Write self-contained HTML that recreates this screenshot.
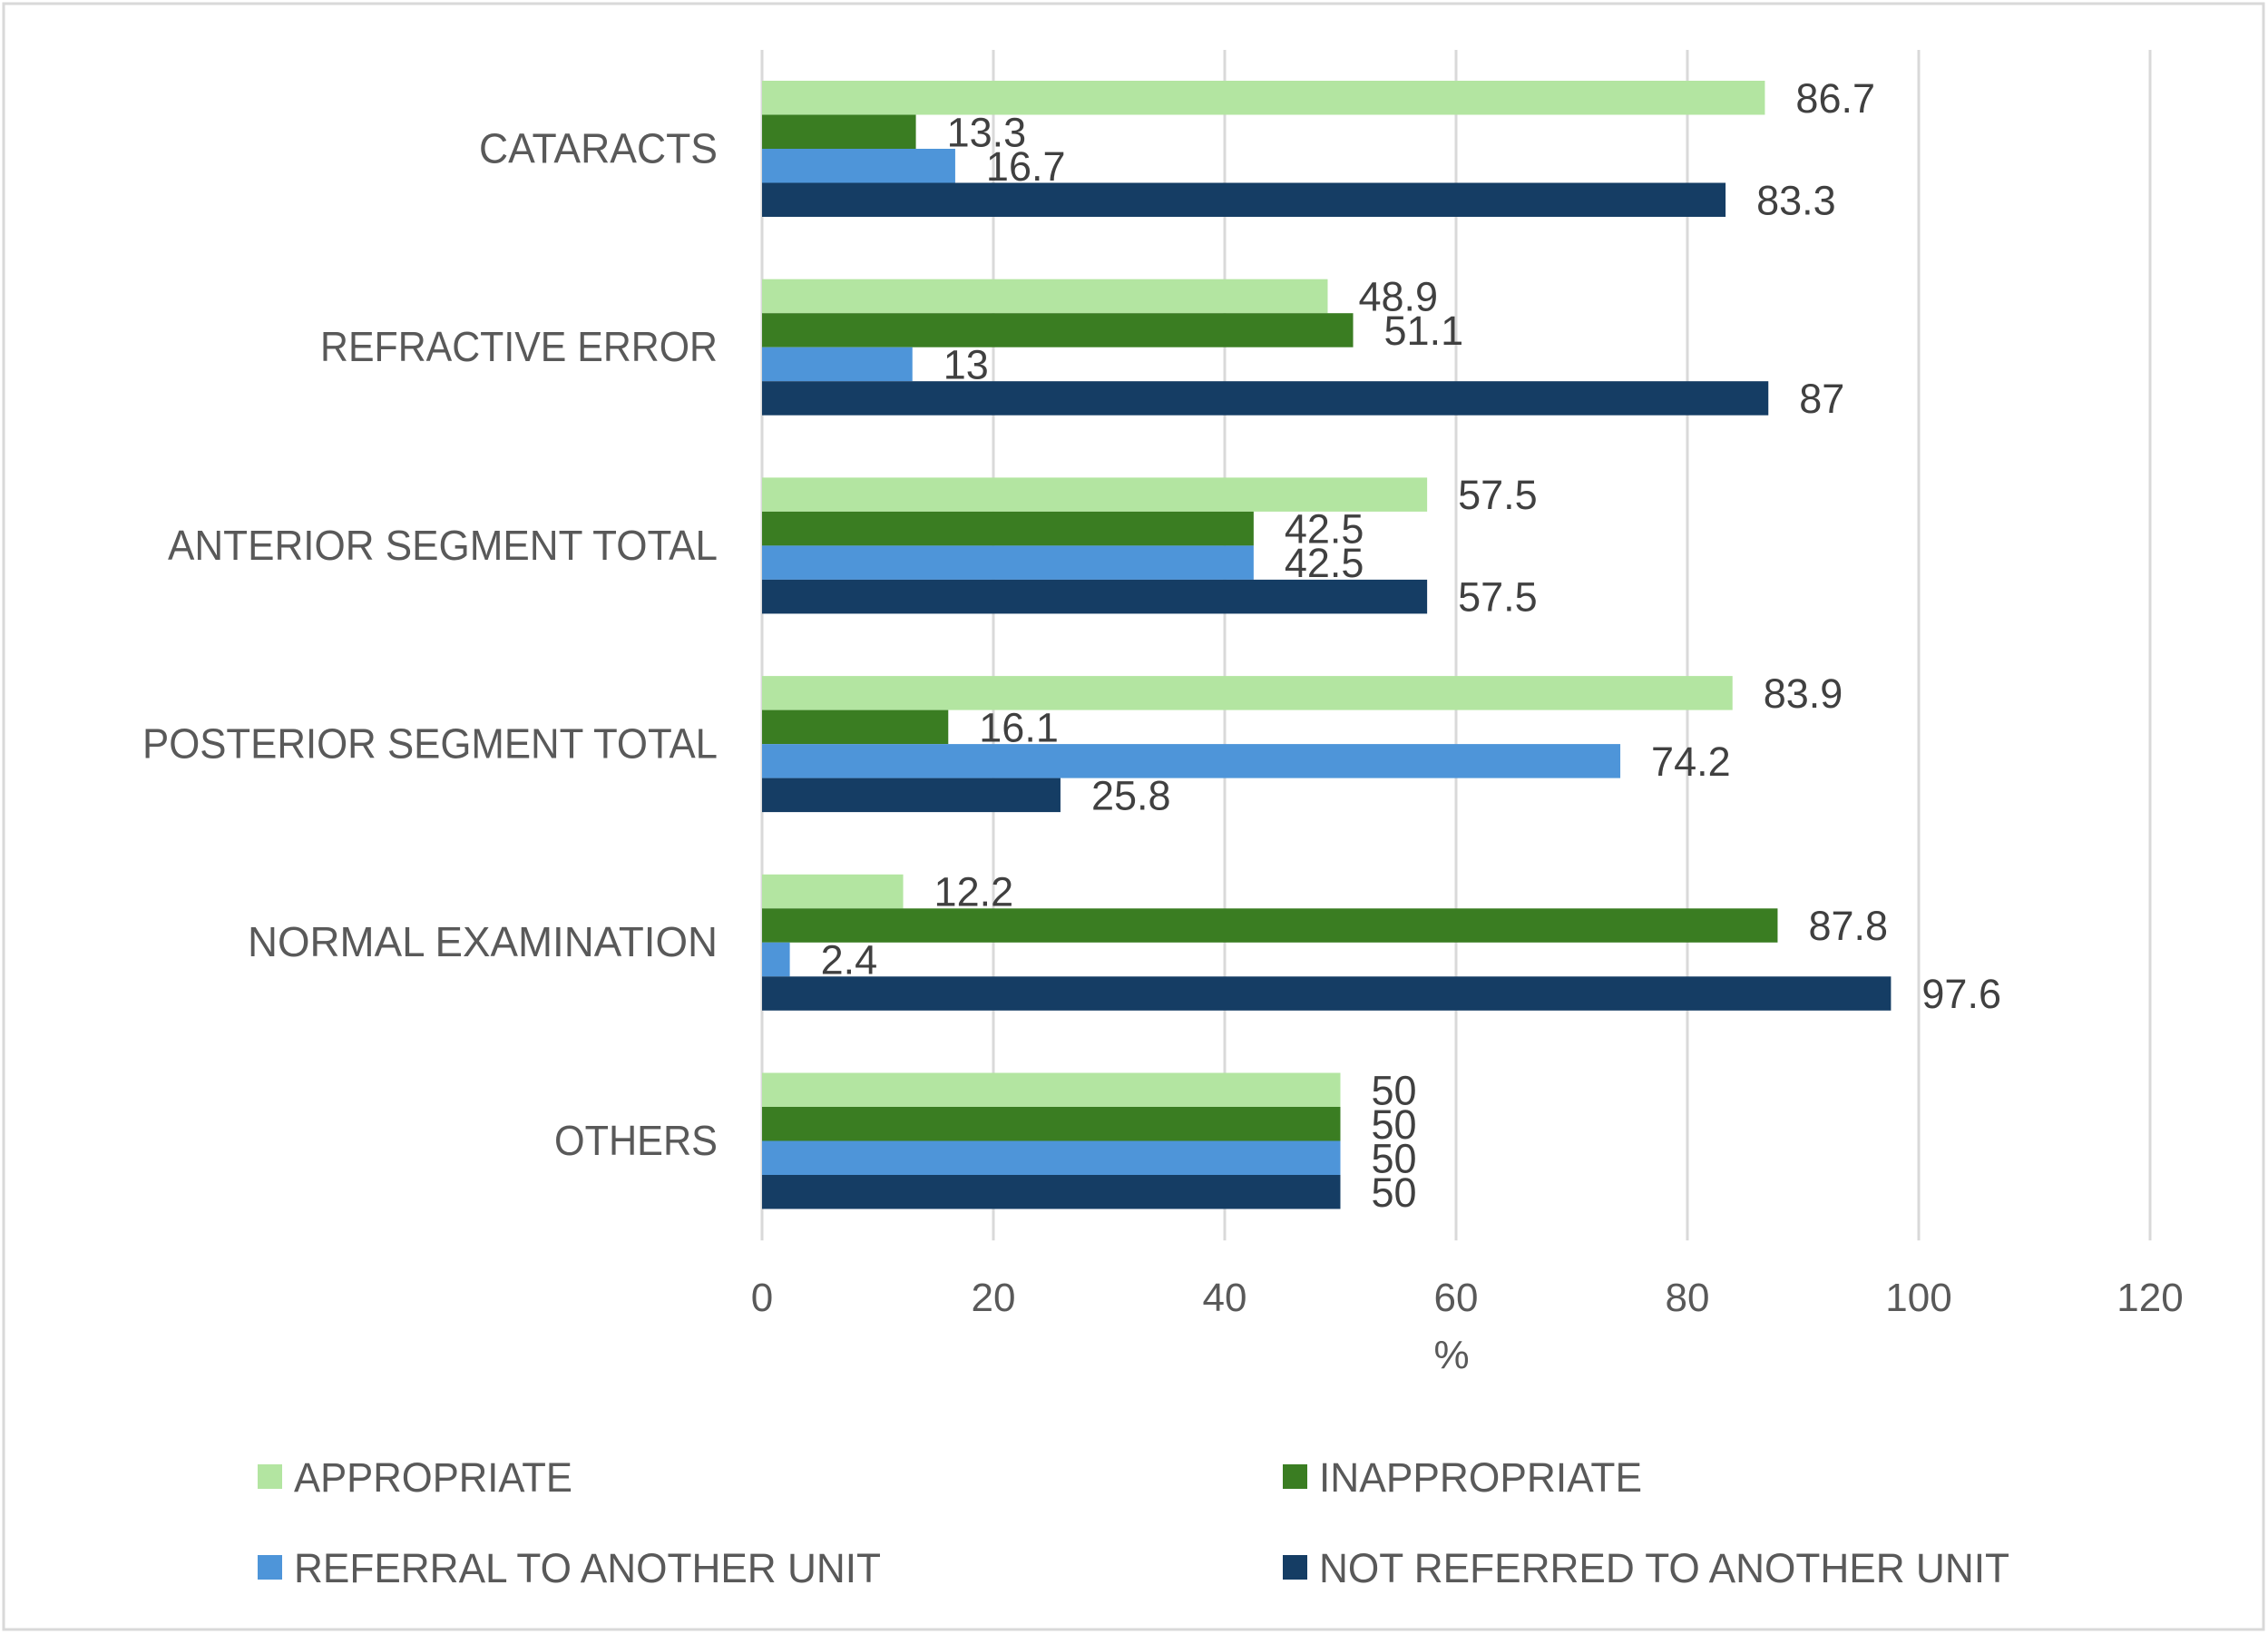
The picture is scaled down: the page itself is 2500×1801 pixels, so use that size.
<!DOCTYPE html>
<html><head><meta charset="utf-8"><style>
html,body{margin:0;padding:0;background:#fff;}
svg{display:block;font-family:"Liberation Sans",sans-serif;}
</style></head><body>
<svg id="chart" width="2500" height="1801" viewBox="0 0 2500 1801" xmlns="http://www.w3.org/2000/svg">
<rect x="4" y="4" width="2491" height="1792" fill="#fff" stroke="#d9d9d9" stroke-width="3"/>
<g id="grid"></g><g id="bars"></g><g id="labels"></g><g id="legend"></g>
</svg>
<script>
const categories = ["CATARACTS","REFRACTIVE ERROR","ANTERIOR SEGMENT TOTAL","POSTERIOR SEGMENT TOTAL","NORMAL EXAMINATION","OTHERS"];
const seriesNames = ["APPROPRIATE","INAPPROPRIATE","REFERRAL TO ANOTHER UNIT","NOT REFERRED TO ANOTHER UNIT"];
const appropriate = [86.7,48.9,57.5,83.9,12.2,50];
const inappropriate = [13.3,51.1,42.5,16.1,87.8,50];
const referral = [16.7,13,42.5,74.2,2.4,50];
const notReferred = [83.3,87,57.5,25.8,97.6,50];
const xTicks = [0,20,40,60,80,100,120];

const series = [appropriate, inappropriate, referral, notReferred];
const colors = ["#b3e5a1","#3a7d22","#4e95d9","#153d64"];
const catWidths = [263,438,606,634,518,180];
const NS = "http://www.w3.org/2000/svg";
const X0 = 840, X1 = 2370, XMAX = 120, TOP = 55, BAND = 218.7, BARH = 37.5, INSET = 34;
const xs = v => X0 + v / XMAX * (X1 - X0);
function mk(tag, attrs, parent, text){
  const e = document.createElementNS(NS, tag);
  for (const k in attrs) e.setAttribute(k, attrs[k]);
  if (text !== undefined) e.textContent = text;
  parent.appendChild(e); return e;
}
const grid = document.getElementById('grid'), bars = document.getElementById('bars'), labels = document.getElementById('labels'), legend = document.getElementById('legend');
const bottom = TOP + BAND * categories.length;
xTicks.forEach(t => {
  const l = mk('line', {x1: xs(t), x2: xs(t), y1: TOP, y2: bottom, stroke: '#d9d9d9', 'stroke-width': 3}, grid);
  
  
  const tx = mk('text', {x: xs(t), y: 1445, 'text-anchor': 'middle', 'font-size': 44, fill: '#595959'}, labels, String(t));
  
  
});
const xt = mk('text', {x: 1600, y: 1508, 'text-anchor': 'middle', 'font-size': 44, fill: '#595959'}, labels, '%');


categories.forEach((c, i) => {
  const y0 = TOP + BAND * i;
  const cl = mk('text', {x: 791, y: y0 + BAND / 2 + 15, 'text-anchor': 'end', 'font-size': 46, fill: '#595959', textLength: catWidths[i], lengthAdjust: 'spacingAndGlyphs'}, labels, c);
  
  
  series.forEach((s, j) => {
    const by = y0 + INSET + j * BARH;
    const r = mk('rect', {x: X0, y: by, width: xs(s[i]) - X0, height: BARH, fill: colors[j]}, bars);
    
    
    const t = mk('text', {x: xs(s[i]) + 34, y: by + BARH / 2 + 16, 'font-size': 45, fill: '#404040'}, labels, String(s[i]));
    
    
  });
});
const legPos = [[284,1628,307],[1414,1628,356],[284,1728,647],[1414,1728,761]];
seriesNames.forEach((n, j) => {
  const p = legPos[j];
  const g = mk('g', {}, legend);
  
  
  mk('rect', {x: p[0], y: p[1] - 14, width: 27, height: 27, fill: colors[j]}, g);
  mk('text', {x: p[0] + 40, y: p[1] + 16, 'font-size': 45, fill: '#595959', textLength: p[2], lengthAdjust: 'spacingAndGlyphs'}, g, n);
});
</script>
</body></html>
